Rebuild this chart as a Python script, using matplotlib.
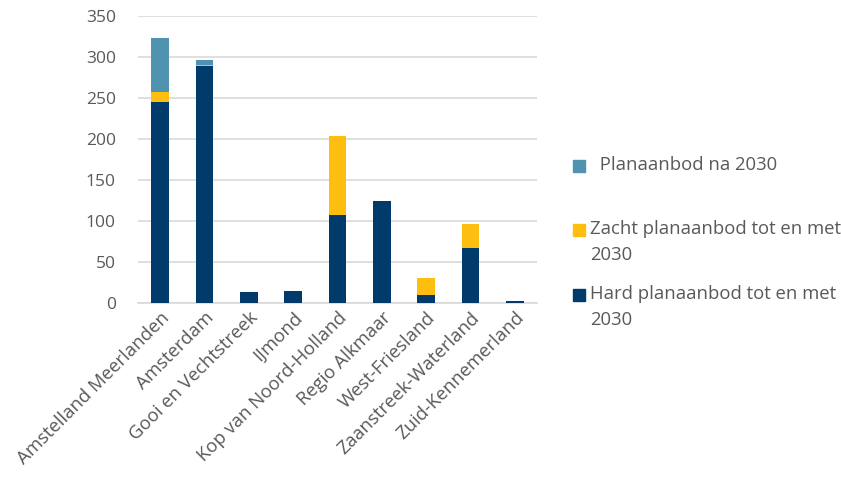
#stacked bars of planaanbod per regio

import matplotlib.pyplot as plt
from matplotlib.patches import Rectangle

#data
regios = ["Amstelland Meerlanden", "Amsterdam", "Gooi en Vechtstreek", "IJmond",
          "Kop van Noord-Holland", "Regio Alkmaar", "West-Friesland",
          "Zaanstreek-Waterland", "Zuid-Kennemerland"]
hard = [245, 289, 13, 15, 107, 124, 10, 67, 3]
zacht = [13, 2, 0, 0, 97, 0, 20, 30, 0]
na2030 = [66, 6, 0, 0, 0, 0, 0, 0, 0]

colHard = "#003b6b"
colZacht = "#fdbe10"
colNa = "#4f93b0"
grey = "#595959"

plt.rcParams['font.family'] = ['Open Sans', 'DejaVu Sans']

W, H = 841, 478
fig = plt.figure(figsize=(W / 100, H / 100), dpi=100)
ax = fig.add_axes([0.164, 0.366, 0.4745, 0.6])

x = range(len(regios))
bottom2 = [h + z for h, z in zip(hard, zacht)]

ax.bar(x, hard, width=0.4, color=colHard, zorder=3)
ax.bar(x, zacht, width=0.4, bottom=hard, color=colZacht, zorder=3)
ax.bar(x, na2030, width=0.4, bottom=bottom2, color=colNa, zorder=3)

ax.set_xlim(-0.5, len(regios) - 0.5)
ax.set_ylim(0, 350)
ax.set_yticks(range(0, 351, 50))
ax.yaxis.grid(True, color="#d9d9d9", linewidth=1.2, zorder=0)

for s in ["top", "right", "left"]:
    ax.spines[s].set_visible(False)
ax.spines["bottom"].set_color("#d9d9d9")
ax.spines["bottom"].set_linewidth(1.2)

ax.set_xticks(list(x))
ax.set_xticklabels(regios, rotation=45, ha="right", rotation_mode="anchor", fontsize=13.3, color=grey)
ax.tick_params(axis="both", length=0, colors=grey)
ax.tick_params(axis="y", labelsize=12.5, pad=16)
ax.tick_params(axis="x", pad=4)

#legend drawn by hand (pixel positions from top-left)
legItems = [
    (colNa, 166, [" Planaanbod na 2030"], 595),
    (colZacht, 230, ["Zacht planaanbod tot en met", "2030"], 590),
    (colHard, 295, ["Hard planaanbod tot en met", "2030"], 590),
]
for col, yc, lines, tx in legItems:
    fig.patches.append(Rectangle(((573) / W, 1 - (yc + 6) / H), 12 / W, 12 / H,
                                 color=col, transform=fig.transFigure, figure=fig))
    for i, line in enumerate(lines):
        fig.text(tx / W, 1 - (yc - 1 + i * 26) / H, line, fontsize=13.3, color=grey, va="center")

plt.savefig("out.png", dpi=100)
